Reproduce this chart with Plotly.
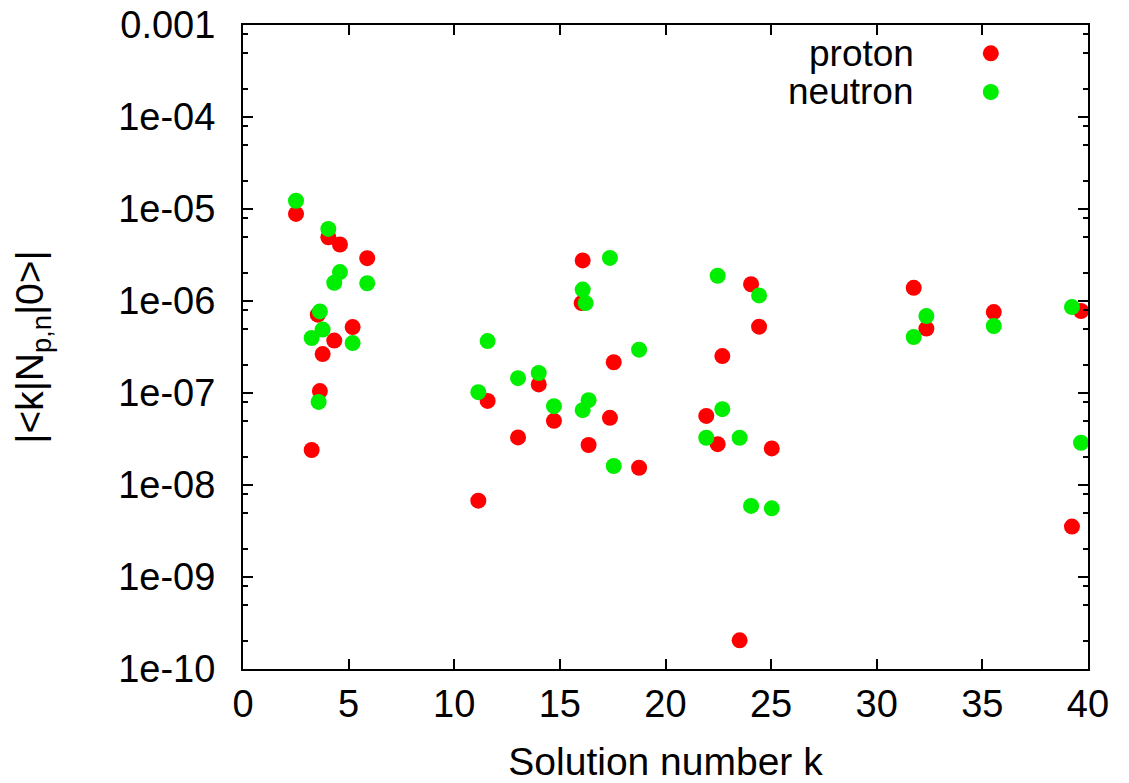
import plotly.graph_objects as go

# ---- data ----
proton_k = [2.51, 3.25, 3.54, 3.64, 3.77, 4.04, 4.32, 4.59, 5.19, 5.88,
            11.14, 11.58, 13.02, 14.0, 14.72, 16.03, 16.08, 16.36, 17.37, 17.55, 18.75,
            21.93, 22.47, 22.69, 23.51, 24.05, 24.43, 25.03,
            31.75, 32.35, 35.54, 39.24, 39.67]
proton_val = [8.85e-6, 2.40e-8, 7.1e-7, 1.05e-7, 2.65e-7, 4.93e-6, 3.71e-7, 4.11e-6, 5.21e-7, 2.92e-6,
              6.76e-9, 8.2e-8, 3.29e-8, 1.24e-7, 4.98e-8, 9.5e-7, 2.76e-6, 2.72e-8, 5.37e-8, 2.16e-7, 1.54e-8,
              5.64e-8, 2.78e-8, 2.52e-7, 2.05e-10, 1.52e-6, 5.26e-7, 2.5e-8,
              1.39e-6, 5.01e-7, 7.58e-7, 3.53e-9, 7.78e-7]

neutron_k = [2.51, 3.25, 3.58, 3.64, 3.77, 4.04, 4.32, 4.59, 5.19, 5.88,
             11.14, 11.58, 13.02, 14.0, 14.72, 16.08, 16.22, 16.08, 16.36, 17.37, 17.55, 18.75,
             21.93, 22.47, 22.69, 23.51, 24.05, 24.43, 25.03,
             31.75, 32.35, 35.54, 39.24, 39.67]
neutron_val = [1.23e-5, 3.96e-7, 8.0e-8, 7.71e-7, 4.89e-7, 6.08e-6, 1.58e-6, 2.06e-6, 3.49e-7, 1.56e-6,
               1.02e-7, 3.67e-7, 1.45e-7, 1.65e-7, 7.19e-8, 1.33e-6, 9.5e-7, 6.5e-8, 8.36e-8, 2.94e-6, 1.61e-8, 2.96e-7,
               3.26e-8, 1.88e-6, 6.67e-8, 3.26e-8, 5.92e-9, 1.15e-6, 5.58e-9,
               4.06e-7, 6.86e-7, 5.35e-7, 8.59e-7, 2.88e-8]

x_tick_vals = [0, 5, 10, 15, 20, 25, 30, 35, 40]
x_tick_text = ["0", "5", "10", "15", "20", "25", "30", "35", "40"]
y_tick_vals = [1e-3, 1e-4, 1e-5, 1e-6, 1e-7, 1e-8, 1e-9, 1e-10]
y_tick_text = ["0.001", "1e-04", "1e-05", "1e-06", "1e-07", "1e-08", "1e-09", "1e-10"]
y_minor_mantissas = [2, 5, 8]
y_minor_exponents = [-10, -9, -8, -7, -6, -5, -4]
series_names = ["proton", "neutron"]

# ---- styles ----
RED = "#ff0000"
GREEN = "#00ee00"
FONT = "Liberation Sans, Arial, Helvetica, sans-serif"
FS_TICK = 38
FS = 39
FS_LEG = 37
MS = 16

y_minor_vals = [m * 10.0 ** e for e in y_minor_exponents for m in y_minor_mantissas]

fig = go.Figure()
fig.add_trace(go.Scatter(x=proton_k, y=proton_val, mode="markers", name=series_names[0],
                         marker=dict(color=RED, size=MS, line=dict(width=0)), showlegend=False))
fig.add_trace(go.Scatter(x=neutron_k, y=neutron_val, mode="markers", name=series_names[1],
                         marker=dict(color=GREEN, size=MS, line=dict(width=0)), showlegend=False))

axis_common = dict(showline=True, linecolor="black", linewidth=2, mirror="allticks",
                   ticks="inside", ticklen=10, tickwidth=2, tickcolor="black",
                   showgrid=False, zeroline=False, automargin=False,
                   ticklabeloverflow="allow",
                   tickfont=dict(family=FONT, size=FS_TICK, color="black"))

fig.update_xaxes(range=[0, 40], tickvals=x_tick_vals, ticktext=x_tick_text,
                 ticklabelstandoff=0,
                 title=dict(text="Solution number k", font=dict(family=FONT, size=FS, color="black"),
                            standoff=30),
                 **axis_common)
fig.update_yaxes(type="log", range=[-10, -3], tickvals=y_tick_vals, ticktext=y_tick_text,
                 ticklabelstandoff=18,
                 minor=dict(tickvals=y_minor_vals, ticks="inside", ticklen=5, tickwidth=2,
                            tickcolor="black", showgrid=False),
                 title=dict(text="|&lt;k|N<sub>p,n</sub>|0&gt;|",
                            font=dict(family=FONT, size=FS, color="black"), standoff=65),
                 **axis_common)

# legend (gnuplot style: text right-aligned, symbol to the right)
legend_rows = [(0.956, RED), (0.896, GREEN)]
for (yy, col), name in zip(legend_rows, series_names):
    fig.add_annotation(x=0.796, y=yy, xref="paper", yref="paper", text=name,
                       xanchor="right", yanchor="middle", showarrow=False,
                       font=dict(family=FONT, size=FS_LEG, color="black"))
    fig.add_shape(type="circle", xref="paper", yref="paper",
                  xsizemode="pixel", ysizemode="pixel",
                  xanchor=0.885, yanchor=yy, x0=-8, x1=8, y0=-8, y1=8,
                  fillcolor=col, line=dict(width=0))

# the page body has an 8px margin, so the figure is shrunk to fit the 1129x783 window
fig.update_layout(width=1121, height=775,
                  margin=dict(l=235, r=41, t=17, b=114),
                  paper_bgcolor="white", plot_bgcolor="white",
                  font=dict(family=FONT, size=FS, color="black"))

fig.write_html("out.html")
